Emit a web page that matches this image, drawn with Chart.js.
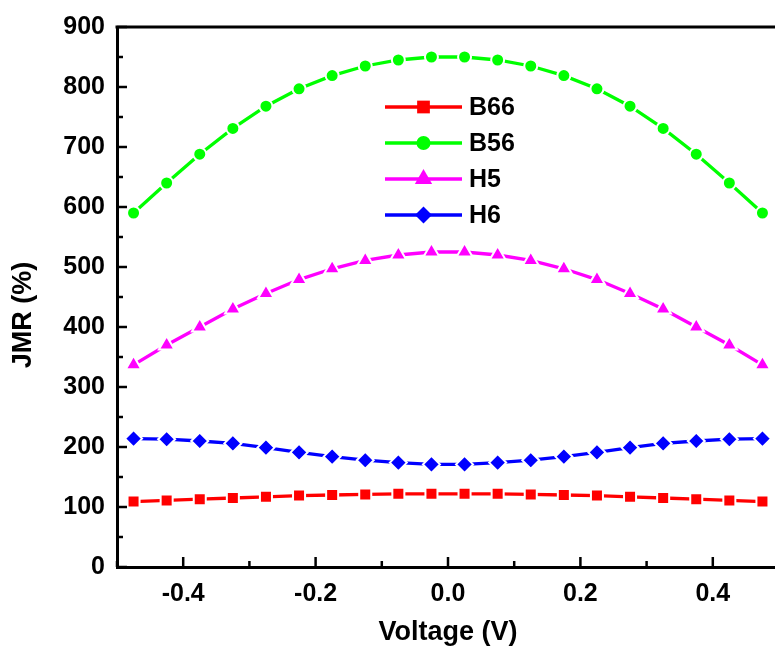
<!DOCTYPE html>
<html>
<head>
<meta charset="utf-8">
<script src="https://cdn.jsdelivr.net/npm/chart.js@4.4.1/dist/chart.umd.min.js"></script>
<style>
  html, body { margin: 0; padding: 0; overflow: hidden; background: #fff; }
  #wrap { width: 790px; height: 650px; }
</style>
</head>
<body>
<div id="wrap"><canvas id="chart" width="790" height="650"></canvas></div>
<script>
// values
const voltage = [-0.475, -0.425, -0.375, -0.325, -0.275, -0.225, -0.175, -0.125, -0.075, -0.025,
                 0.025, 0.075, 0.125, 0.175, 0.225, 0.275, 0.325, 0.375, 0.425, 0.475];
const b66 = [109, 111, 113, 115, 117, 119, 120, 121, 122, 122, 122, 122, 121, 120, 119, 117, 115, 113, 111, 109];
const b56 = [590, 640, 688, 731, 768, 797, 819, 835, 845, 850, 850, 845, 835, 819, 797, 768, 731, 688, 640, 590];
const h5 = [337, 370, 400, 430, 456, 479, 497, 511, 520, 525, 525, 520, 511, 497, 479, 456, 430, 400, 370, 337];
const h6 = [214, 213, 210, 206, 199, 191, 184, 178, 174, 171, 171, 174, 178, 184, 191, 199, 206, 210, 213, 214];

const seriesNames = ['B66', 'B56', 'H5', 'H6'];
const seriesColors = ['#ff0000', '#00ff00', '#ff00ff', '#0000ff'];
const seriesStyles = ['rect', 'circle', 'triangle', 'rectRot'];
const seriesRadius = [8.5, 6.5, 9, 8.5];
const legendRadius = [9, 7, 10, 8.5];

const xMajorTicks = [-0.4, -0.2, 0, 0.2, 0.4];
const xMinorTicks = [-0.5, -0.3, -0.1, 0.1, 0.3, 0.5];
const yMajorTicks = [0, 100, 200, 300, 400, 500, 600, 700, 800, 900];
const yMinorTicks = [50, 150, 250, 350, 450, 550, 650, 750, 850];

const FONT = "'Liberation Sans', Arial, sans-serif";

const allSeries = [b66, b56, h5, h6];
const datasets = allSeries.map((vals, i) => ({
    label: seriesNames[i],
    data: vals.map((y, k) => ({ x: voltage[k], y: y })),
    borderColor: seriesColors[i],
    backgroundColor: seriesColors[i],
    borderWidth: 3.3,
    pointStyle: seriesStyles[i],
    pointRadius: seriesRadius[i],
    pointBackgroundColor: seriesColors[i],
    pointBorderColor: '#ffffff',
    pointBorderWidth: 2,
    tension: 0
}));

// inward ticks, top frame line and the y title
const frameTicks = {
    id: 'frameTicks',
    afterDatasetsDraw(chart) {
        const ctx = chart.ctx;
        const a = chart.chartArea;
        const xs = chart.scales.x, ys = chart.scales.y;
        ctx.save();
        ctx.strokeStyle = '#000';
        ctx.lineWidth = 3;
        ctx.beginPath();
        ctx.moveTo(a.left - 1.5, a.top);
        ctx.lineTo(a.right, a.top);
        ctx.stroke();
        ctx.lineWidth = 2.5;
        const tick = (vals, len, isX) => {
            vals.forEach(v => {
                ctx.beginPath();
                if (isX) {
                    const px = xs.getPixelForValue(v);
                    ctx.moveTo(px, a.bottom);
                    ctx.lineTo(px, a.bottom - len);
                } else {
                    const py = ys.getPixelForValue(v);
                    ctx.moveTo(a.left, py);
                    ctx.lineTo(a.left + len, py);
                }
                ctx.stroke();
            });
        };
        tick(xMajorTicks, 10, true);
        tick(xMinorTicks, 6, true);
        tick(yMajorTicks, 10, false);
        tick(yMinorTicks, 6, false);

        // y title sits a bit below the centre in the original
        ctx.translate(24, 315);
        ctx.rotate(-Math.PI / 2);
        ctx.fillStyle = '#000';
        ctx.font = 'bold 27px ' + FONT;
        ctx.textAlign = 'center';
        ctx.textBaseline = 'middle';
        ctx.fillText('JMR (%)', 0, 0);
        ctx.restore();
    }
};

// legend inside the plot, line with marker in the middle
const innerLegend = {
    id: 'innerLegend',
    afterDraw(chart) {
        const ctx = chart.ctx;
        ctx.save();
        chart.data.datasets.forEach((ds, i) => {
            const y = 107 + i * 36;
            ctx.strokeStyle = ds.borderColor;
            ctx.fillStyle = ds.borderColor;
            ctx.lineWidth = 3.3;
            ctx.beginPath();
            ctx.moveTo(385, y);
            ctx.lineTo(462, y);
            ctx.stroke();
            Chart.helpers.drawPoint(ctx, {
                pointStyle: ds.pointStyle, radius: legendRadius[i], borderWidth: 0, rotation: 0
            }, 423.5, y);
            ctx.fillStyle = '#000';
            ctx.font = 'bold 25px ' + FONT;
            ctx.textAlign = 'left';
            ctx.textBaseline = 'middle';
            ctx.fillText(ds.label, 469, y + 1);
        });
        ctx.restore();
    }
};

new Chart(document.getElementById('chart'), {
    type: 'line',
    data: { datasets: datasets },
    plugins: [frameTicks, innerLegend],
    options: {
        responsive: false,
        devicePixelRatio: 1,
        animation: false,
        events: [],
        layout: { padding: { top: 24, right: 4, left: 0, bottom: 0 } },
        plugins: { legend: { display: false }, tooltip: { enabled: false } },
        scales: {
            x: {
                type: 'linear',
                min: -0.5,
                max: 0.5,
                afterBuildTicks: s => { s.ticks = xMajorTicks.map(v => ({ value: v })); },
                afterFit: s => { s.height = 83; },
                grid: { drawOnChartArea: false, drawTicks: false },
                border: { display: true, color: '#000', width: 3 },
                ticks: {
                    padding: 12,
                    color: '#000',
                    font: { family: FONT, size: 25, weight: 'bold' },
                    callback: v => Number(v).toFixed(1),
                    maxRotation: 0
                },
                title: {
                    display: true,
                    text: 'Voltage (V)',
                    color: '#000',
                    font: { family: FONT, size: 27, weight: 'bold' },
                    padding: { top: 0, bottom: 1 }
                }
            },
            y: {
                min: 0,
                max: 900,
                afterBuildTicks: s => { s.ticks = yMajorTicks.map(v => ({ value: v })); },
                afterFit: s => { s.width = 117; },
                grid: { drawOnChartArea: false, drawTicks: false },
                border: { display: true, color: '#000', width: 3 },
                ticks: {
                    padding: 12,
                    color: '#000',
                    font: { family: FONT, size: 25, weight: 'bold' }
                }
            }
        }
    }
});
</script>
</body>
</html>
